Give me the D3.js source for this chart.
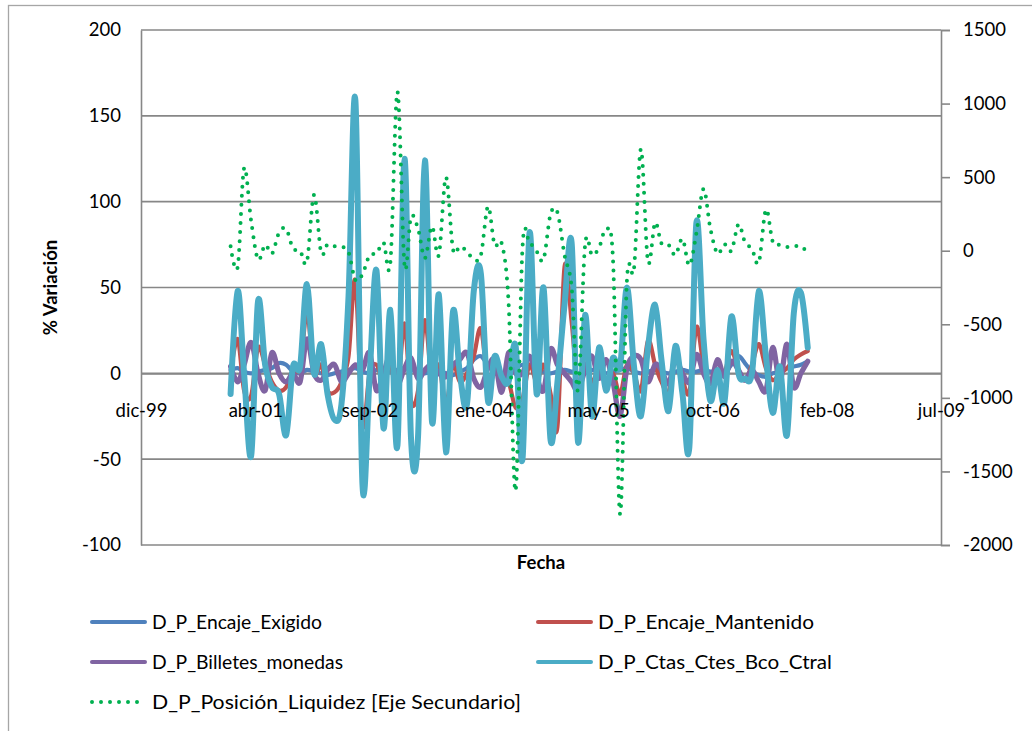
<!DOCTYPE html>
<html>
<head>
<meta charset="utf-8">
<script src="https://cdn.jsdelivr.net/npm/d3@7/dist/d3.min.js"></script>
<style>
  body { margin: 0; background: #ffffff; }
  svg { display: block; }
  text { font-family: Lato, "Open Sans", sans-serif; fill: #000; }
</style>
</head>
<body>
<svg id="chart" width="1032" height="731"></svg>
<script>
// ---- data: monthly observations, Jan 2001 - Dec 2007 ----
const firstMonth = Date.UTC(2001, 0, 1);
const monthCount = 84;
const fechas = d3.range(monthCount).map(i => d3.utcMonth.offset(new Date(firstMonth), i));

const encajeExigido = [
  2, 3, 1, 0, 1, 2, 3, 6, 5, 1, 0, 2,
  1, 0, -1, 0, 1, 2, 3, 1, 0, 2, 3, 1,
  2, 3, 2, 1, 0, 1, 2, 0, -1, 1, 3, 8,
  10, 5, 2, 0, 1, 3, 5, 4, 3, 1, 0, 1,
  2, 1, 0, 1, 2, 1, 0, 1, 2, 3, 1, 0,
  1, 2, 1, 0, 1, 2, 1, 1, 2, 1, 1, 0,
  5, 10, 6, 1, -1, -2, 0, 1, 3, 4, 5, 7
];

const encajeMantenido = [
  0, 20, -10, -13, 15, 5, -5, -10, -8, 2, 3, 35,
  0, 5, -10, -11, -5, 10, 54, -30, 0, 5, -5, 5,
  -10, 29, -16, -10, 31, -5, 5, -18, 5, -5, 0, 10,
  26, -5, 0, -3, -5, -20, -15, 5, -5, 5, -12, -31,
  62, 30, -8, 5, -5, 3, -5, 0, -12, 5, 0, -10,
  19, 5, -5, -11, 12, -3, -11, 27, 5, -5, -2, 0,
  13, 2, -4, 5, 17, 3, -4, 0, 3, 8, 11, 13
];

const billetesMonedas = [
  4, -5, 5, 18, 0, -10, 12, 0, -5, 0, -5, 20,
  0, -4, 2, 5, -5, 0, 5, 2, 12, -10, 0, 10,
  -6, 3, 9, -3, 2, 5, 0, -2, 5, 8, 12, -3,
  -8, 3, 8, -11, 12, 0, 0, 10, -2, -10, 14, 5,
  0, -5, -10, 2, 10, -3, 8, -5, -25, 3, 10, 8,
  -5, 5, 2, -6, 8, 0, -5, 11, 0, -6, 8, -2,
  7, 2, -4, 2, -5, -10, 15, -5, 17, -8, 0, 7
];

const ctasCtesBcoCtral = [
  -12, 48, 0, -48, 42, 5, -8, -12, -36, 4, 4, 52,
  0, 17, -12, -27, -18, 45, 159, -65, -2, 60, -32, 37,
  -42, 125, -37, -37, 124, -28, 46, -46, 36, 0, -18, 48,
  58, -16, 10, -2, -5, 16, -50, 82, -12, 50, -39, -5,
  40, 76, -40, 34, -25, 15, -10, 9, 4, 50, 4, -25,
  15, 40, 8, -22, 16, -12, -43, 88, 20, -16, 2, -17,
  33, 0, -3, 0, 48, 10, -23, 4, -36, 35, 47, 15
];

// secondary axis series
const posicionLiquidez = [
  30, -110, 560, 200, -60, 40, -20, 122, 148, 16, 0, -75,
  380, -12, 43, 30, 27, -10, -200, -160, -30, -20, 55, -80,
  1080, -100, 230, 150, -50, 165, -30, 500, 10, 30, -5, -60,
  -30, 300, 40, 50, -350, -1630, 20, 50, -5, -60, 250, 260,
  -30, -250, -950, 40, -30, 20, 140, -60, -1790, -200, -120, 690,
  -75, 190, 50, 40, -30, 80, -100, 120, 420, 150, -20, 45,
  0, 180, 60, 10, -80, 280, 60, 40, 25, 30, 30, -15
];

const seriesNames = [
  "D_P_Encaje_Exigido",
  "D_P_Encaje_Mantenido",
  "D_P_Billetes_monedas",
  "D_P_Ctas_Ctes_Bco_Ctral",
  "D_P_Posición_Liquidez [Eje Secundario]"
];

const xTickLabels = ["dic-99", "abr-01", "sep-02", "ene-04", "may-05", "oct-06", "feb-08", "jul-09"];
const yLeftTicks = [-100, -50, 0, 50, 100, 150, 200];
const yRightTicks = [-2000, -1500, -1000, -500, 0, 500, 1000, 1500];

// ---- layout ----
const plot = { left: 141, right: 941, top: 30, bottom: 545 };
const axisColor = "#878787";
const colors = {
  exigido: "#4F81BD",
  mantenido: "#C0504D",
  billetes: "#8064A2",
  ctas: "#4BACC6",
  liquidez: "#00B050"
};
const numFmt = d => String(d);
const labelFont = { size: 18.5, family: "Lato, sans-serif" };

const svg = d3.select("#chart");

// outer chart frame
svg.append("rect")
  .attr("x", 8.5).attr("y", 5.5)
  .attr("width", 1100).attr("height", 800)
  .attr("fill", "none")
  .attr("stroke", "#a6a6a6")
  .attr("stroke-width", 1.3);

// x axis: date scale, 500-day major unit
const xStart = new Date(Date.UTC(1999, 11, 6));
const xEnd = d3.utcDay.offset(xStart, 3500);
const x = d3.scaleUtc().domain([xStart, xEnd]).range([plot.left, plot.right]);
const xTicks = d3.range(xTickLabels.length).map(k => d3.utcDay.offset(xStart, 500 * k));

const yL = d3.scaleLinear().domain([-100, 200]).range([plot.bottom, plot.top]);
const yR = d3.scaleLinear().domain([-2000, 1500]).range([plot.bottom, plot.top]);

// horizontal gridlines
svg.append("g")
  .selectAll("line")
  .data(yLeftTicks)
  .join("line")
  .attr("x1", plot.left).attr("x2", plot.right)
  .attr("y1", d => yL(d)).attr("y2", d => yL(d))
  .attr("stroke", axisColor)
  .attr("stroke-width", 1.6);

// left axis
const gLeft = svg.append("g")
  .attr("transform", `translate(${plot.left},0)`)
  .call(d3.axisLeft(yL).tickValues(yLeftTicks).tickFormat(numFmt).tickSize(0).tickPadding(20));
gLeft.select(".domain").attr("stroke", axisColor).attr("stroke-width", 1.6);
gLeft.selectAll("text").attr("font-size", labelFont.size).attr("font-family", labelFont.family);

// right axis
const gRight = svg.append("g")
  .attr("transform", `translate(${plot.right},0)`)
  .call(d3.axisRight(yR).tickValues(yRightTicks).tickFormat(numFmt).tickSize(9).tickPadding(13));
gRight.select(".domain").attr("stroke", axisColor).attr("stroke-width", 1.6);
gRight.selectAll(".tick line").attr("stroke", axisColor).attr("stroke-width", 1.6);
gRight.selectAll("text").attr("font-size", labelFont.size).attr("font-family", labelFont.family);

// bottom axis line crossing at 0 (labels are added above the series later)
const xAxis = d3.axisBottom(x).tickValues(xTicks).tickFormat((d, i) => xTickLabels[i]).tickSize(0);
const gBottom = svg.append("g")
  .attr("transform", `translate(0,${yL(0)})`)
  .call(xAxis);
gBottom.select(".domain").attr("stroke", axisColor).attr("stroke-width", 1.6);
gBottom.selectAll(".tick").remove();

// axis titles
svg.append("text")
  .attr("transform", `translate(57,${(plot.top + plot.bottom) / 2}) rotate(-90)`)
  .attr("text-anchor", "middle")
  .attr("font-size", labelFont.size)
  .attr("font-weight", "bold")
  .text("% Variación");

svg.append("text")
  .attr("x", (plot.left + plot.right) / 2)
  .attr("y", 569)
  .attr("text-anchor", "middle")
  .attr("font-size", labelFont.size)
  .attr("font-weight", "bold")
  .text("Fecha");

// series lines (smoothed)
const curve = d3.curveCatmullRom.alpha(0);
const lineL = d3.line().x((d, i) => x(fechas[i])).y(d => yL(d)).curve(curve);
const lineR = d3.line().x((d, i) => x(fechas[i])).y(d => yR(d)).curve(curve);

const primary = [
  { values: encajeExigido, color: colors.exigido, width: 4.2 },
  { values: encajeMantenido, color: colors.mantenido, width: 4.2 },
  { values: billetesMonedas, color: colors.billetes, width: 5.2 },
  { values: ctasCtesBcoCtral, color: colors.ctas, width: 6 }
];

svg.append("g")
  .selectAll("path")
  .data(primary)
  .join("path")
  .attr("d", s => lineL(s.values))
  .attr("fill", "none")
  .attr("stroke", s => s.color)
  .attr("stroke-width", s => s.width)
  .attr("stroke-linejoin", "round")
  .attr("stroke-linecap", "round");

svg.append("path")
  .attr("d", lineR(posicionLiquidez))
  .attr("fill", "none")
  .attr("stroke", colors.liquidez)
  .attr("stroke-width", 4)
  .attr("stroke-linecap", "round")
  .attr("stroke-dasharray", "0 9");

// date labels, drawn over the series
const gDates = svg.append("g")
  .attr("transform", `translate(0,${yL(0)})`)
  .call(xAxis);
gDates.select(".domain").remove();
gDates.selectAll("text")
  .attr("y", 44).attr("dy", null)
  .attr("font-size", labelFont.size).attr("font-family", labelFont.family);

// legend
const legendItems = [
  { name: seriesNames[0], color: colors.exigido, x: 91, y: 622, len: 170, dotted: false },
  { name: seriesNames[1], color: colors.mantenido, x: 537, y: 622, len: 216, dotted: false },
  { name: seriesNames[2], color: colors.billetes, x: 91, y: 662, len: 191, dotted: false },
  { name: seriesNames[3], color: colors.ctas, x: 537, y: 662, len: 234, dotted: false },
  { name: seriesNames[4], color: colors.liquidez, x: 91, y: 702, len: 369, dotted: true }
];

const lg = svg.append("g")
  .selectAll("g")
  .data(legendItems)
  .join("g");

lg.append("line")
  .attr("x1", d => d.x + 1).attr("x2", d => d.x + 54)
  .attr("y1", d => d.y).attr("y2", d => d.y)
  .attr("stroke", d => d.color)
  .attr("stroke-width", 4)
  .attr("stroke-linecap", "round")
  .attr("stroke-dasharray", d => d.dotted ? "0 9" : null);

lg.append("text")
  .attr("x", d => d.x + 61)
  .attr("y", d => d.y + 6.5)
  .attr("font-size", labelFont.size)
  .attr("textLength", d => d.len)
  .attr("lengthAdjust", "spacingAndGlyphs")
  .text(d => d.name);
</script>
</body>
</html>
